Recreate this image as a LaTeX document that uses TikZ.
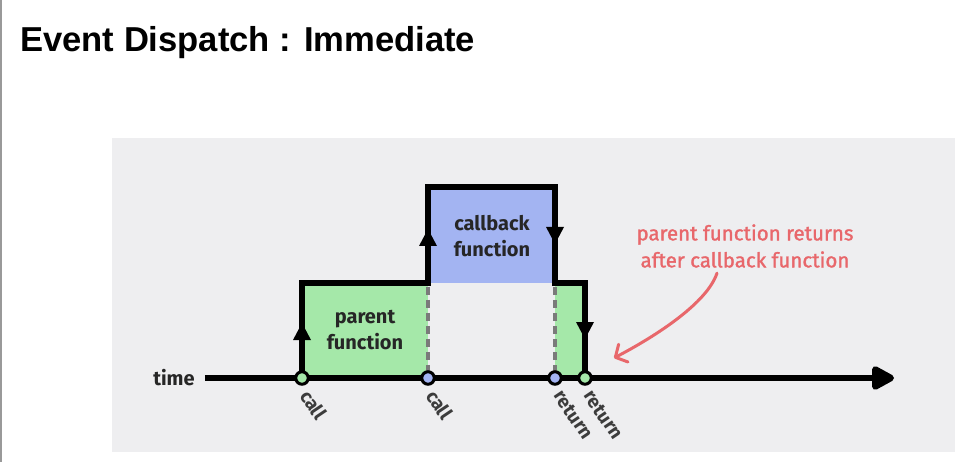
\documentclass[tikz,border=0pt]{standalone}
\usepackage{fontspec}
\setmainfont{Fira Sans}
\newfontfamily\titlefont{Liberation Sans}
\newfontfamily\notefont{Fira Sans}[FakeBold=1.4]
\usetikzlibrary{arrows.meta}
\definecolor{panel}{HTML}{EEEEF0}
\definecolor{pgreen}{HTML}{A5E8A9}
\definecolor{pblue}{HTML}{A3B4F2}
\definecolor{dgray}{HTML}{7A7A7A}
\definecolor{note}{HTML}{E8676B}
\definecolor{ink}{HTML}{262626}
\tikzset{
  outline/.style={line width=6.5pt, line join=miter, draw=black},
  dashsep/.style={line width=4pt, draw=dgray, dash pattern=on 8pt off 5pt},
  tri/.style={fill=black},
  dot/.style={circle, draw=black, line width=3pt, minimum size=12.5pt, inner sep=0pt},
  evlabel/.style={rotate=-56, anchor=west, inner sep=0pt, text=ink!90, font=\bfseries\fontsize{19}{21}\selectfont},
  boxlabel/.style={align=center, text=ink, font=\bfseries\fontsize{20}{26}\selectfont},
}
\begin{document}
\begin{tikzpicture}[x=1pt,y=-1pt]
\useasboundingbox (0,0) rectangle (961,462);
\fill[white] (0,0) rectangle (961,462);
\draw[black!40, line width=1.5pt] (0.75,0) -- (0.75,462);
\node[anchor=base west, inner sep=0pt, font=\titlefont\bfseries\fontsize{34.6}{42}\selectfont] (title) at (20,52) {Event Dispatch : Immediate};
\fill[panel] (112,138) rectangle (955,452);
% fills
\fill[pgreen] (302,283) rectangle (428,378);
\fill[pgreen] (555,283) rectangle (585,378);
\fill[pblue] (428,187) rectangle (555,283);
% dashed separators
\draw[dashsep] (428,287) -- (428,376);
\draw[dashsep] (555,287) -- (555,376);
% outline
\draw[outline] (302,378) -- (302,283) -- (428,283) -- (428,187) -- (555,187) -- (555,283) -- (585,283) -- (585,378);
% direction triangles
\fill[tri] (302,323) -- (311,340) -- (293,340) -- cycle;
\fill[tri] (428,229) -- (437,246) -- (419,246) -- cycle;
\fill[tri] (555,244) -- (564,227) -- (546,227) -- cycle;
\fill[tri] (585,339) -- (594,322) -- (576,322) -- cycle;
% box labels
\node[boxlabel] (parent) at (365,330) {parent\\function};
\node[boxlabel] (callback) at (492,236) {callback\\function};
% time axis
\node[inner sep=0pt, text=ink, font=\bfseries\fontsize{20}{24}\selectfont] (time) at (174,378) {time};
\coordinate (axend) at (894,378);
\draw[line width=6.5pt, -{Triangle[length=26pt,width=26pt,round]}] ([xshift=10pt]time.east) -- (axend);
% event dots
\node[dot, fill=pgreen] (c1) at (302,378) {};
\node[dot, fill=pblue] (c2) at (428,378) {};
\node[dot, fill=pblue] (c3) at (555,378) {};
\node[dot, fill=pgreen] (c4) at (585,378) {};
\node[evlabel] (l1) at ([xshift=3pt,yshift=-14pt]c1.center) {call};
\node[evlabel] (l2) at ([xshift=3pt,yshift=-14pt]c2.center) {call};
\node[evlabel] (l3) at ([xshift=3pt,yshift=-14pt]c3.center) {return};
\node[evlabel] (l4) at ([xshift=3pt,yshift=-14pt]c4.center) {return};
% note
\node[align=center, text=note, font=\notefont\fontsize{20.5}{27}\selectfont] (notetext) at (745,246) {parent function returns\\after callback function};
\coordinate (notetip) at (614,358);
\draw[note, line width=3pt, line cap=round, -{Straight Barb[length=9pt,width=20pt,round]}]
  ([xshift=-28pt,yshift=-2pt]notetext.south) .. controls +(-10,30) and +(42,-22) .. (notetip);
\end{tikzpicture}
\end{document}
